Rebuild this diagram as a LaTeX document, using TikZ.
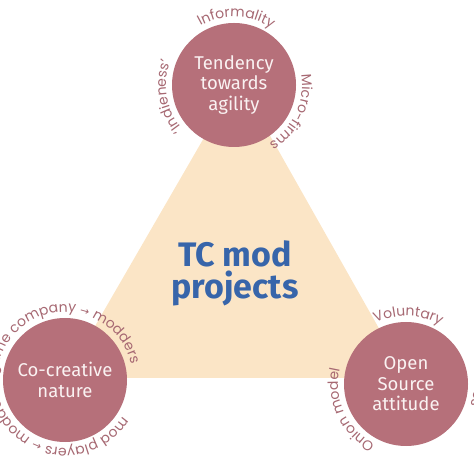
\documentclass[tikz,border=0pt]{standalone}
\usepackage{fontspec}
\setmainfont{Fira Sans}
\newfontfamily\arcfam{Poppins}
\newfontfamily\arrowfam{DejaVu Sans}
\usetikzlibrary{decorations.text}
\definecolor{circfill}{RGB}{182,112,122}
\definecolor{circtext}{RGB}{250,242,242}
\definecolor{trifill}{RGB}{251,229,198}
\definecolor{titleblue}{RGB}{55,101,170}
\definecolor{arccol}{RGB}{166,104,114}
\newcommand\myarcfont{\arcfam\fontsize{14bp}{15bp}\selectfont\color{arccol}}
\newcommand\myarrowfont{\arrowfam\fontsize{11bp}{15bp}\selectfont\color{arccol}}
\begin{document}
\begin{tikzpicture}[x=1bp,y=1bp,
  circ/.style={circle, fill=circfill, minimum size=124bp, inner sep=0pt, align=center,
    text=circtext, font=\fontsize{18.5bp}{20.5bp}\selectfont},
  titlenode/.style={align=center, text=titleblue, font=\fontsize{34bp}{32bp}\selectfont\bfseries},
  arctext/.style={decorate, decoration={text along path, text align=center, text={|\myarcfont|#1}}}
]
\useasboundingbox (0,0) rectangle (474,474);
\clip (0,0) rectangle (474,474);
% triangle
\fill[trifill] (65,96) -- (238,395) -- (407,96) -- cycle;
\node[titlenode] (T) at (235,201) {TC mod\\projects};
% circles
\node[circ] (A) at (234,389) {Tendency\\towards\\agility};
\node[circ] (B) at (65,94) {Co-creative\\nature};
\node[circ] (C) at (406,90) {Open\\Source\\attitude};
% arc texts, top circle
\path[shift={(A.center)}, arctext={Informality}] (148:68) arc[start angle=148, end angle=28, radius=68];
\path[shift={(A.center)}, arctext={Micro-firms}] (35:68) arc[start angle=35, end angle=-85, radius=68];
\path[shift={(A.center)}, arctext={‘Indieness’}] (250:68) arc[start angle=250, end angle=130, radius=68];
% arc texts, bottom-left circle
\path[shift={(B.center)}, arctext={game company |\myarrowfont|→|\myarcfont| modders}] (188:68) arc[start angle=188, end angle=2, radius=68];
\path[shift={(B.center)}, arctext={mod players |\myarrowfont|←|\myarcfont| modders}] (-6:68) arc[start angle=-6, end angle=-200, radius=68];
% arc texts, bottom-right circle
\path[shift={(C.center)}, arctext={Voluntary}] (148:68) arc[start angle=148, end angle=28, radius=68];
\path[shift={(C.center)}, arctext={Onion model}] (265:68) arc[start angle=265, end angle=145, radius=68];
\path[shift={(C.center)}, arctext={es}] (18:68) arc[start angle=18, end angle=-42, radius=68];
\end{tikzpicture}
\end{document}
